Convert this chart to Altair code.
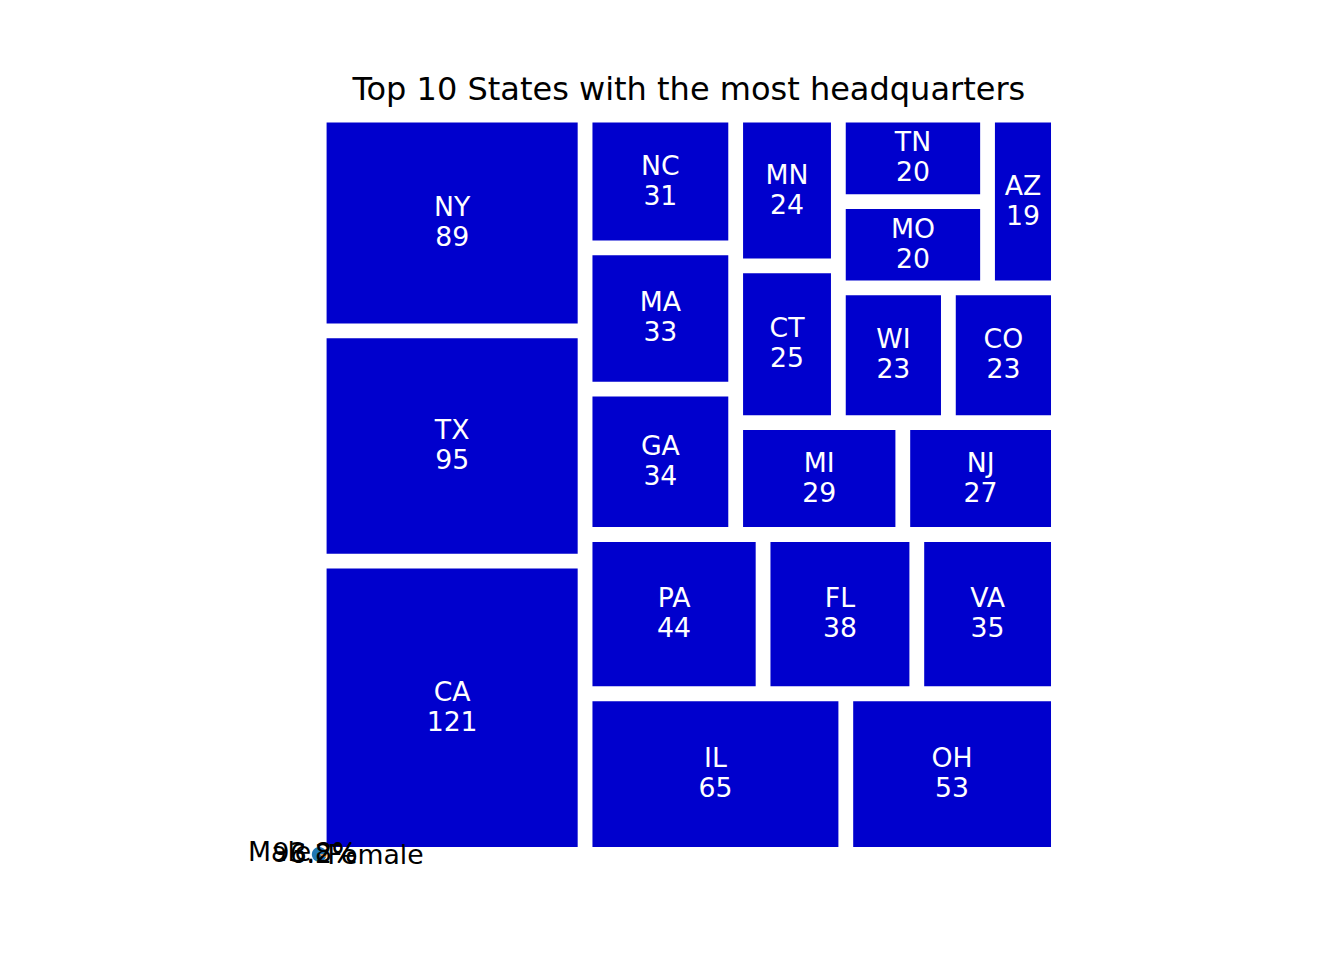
import math
import altair as alt
import pandas as pd

states = ["CA", "TX", "NY", "IL", "OH", "PA", "FL", "VA", "GA", "MA",
          "NC", "MI", "NJ", "CT", "MN", "WI", "CO", "MO", "TN", "AZ"]
counts = [121, 95, 89, 65, 53, 44, 38, 35, 34, 33,
          31, 29, 27, 25, 24, 23, 23, 20, 20, 19]

pie_labels = ["Male", "Female"]
pie_values = [93.8, 6.2]


# ---- squarify layout (same algorithm as the python "squarify" package) ----
def layoutrow(sizes, x, y, dx, dy):
    width = sum(sizes) / dy
    rects = []
    for s in sizes:
        rects.append({"x": x, "y": y, "dx": width, "dy": s / width})
        y += s / width
    return rects


def layoutcol(sizes, x, y, dx, dy):
    height = sum(sizes) / dx
    rects = []
    for s in sizes:
        rects.append({"x": x, "y": y, "dx": s / height, "dy": height})
        x += s / height
    return rects


def layout(sizes, x, y, dx, dy):
    return layoutrow(sizes, x, y, dx, dy) if dx >= dy else layoutcol(sizes, x, y, dx, dy)


def leftover(sizes, x, y, dx, dy):
    if dx >= dy:
        w = sum(sizes) / dy
        return x + w, y, dx - w, dy
    h = sum(sizes) / dx
    return x, y + h, dx, dy - h


def worst_ratio(sizes, x, y, dx, dy):
    return max(max(r["dx"] / r["dy"], r["dy"] / r["dx"]) for r in layout(sizes, x, y, dx, dy))


def squarify(sizes, x, y, dx, dy):
    sizes = [float(s) for s in sizes]
    if len(sizes) == 0:
        return []
    if len(sizes) == 1:
        return layout(sizes, x, y, dx, dy)
    i = 1
    while i < len(sizes) and worst_ratio(sizes[:i], x, y, dx, dy) >= worst_ratio(sizes[:i + 1], x, y, dx, dy):
        i += 1
    cur, rem = sizes[:i], sizes[i:]
    lx, ly, ldx, ldy = leftover(cur, x, y, dx, dy)
    return layout(cur, x, y, dx, dy) + squarify(rem, lx, ly, ldx, ldy)


total = sum(counts)
norm = [c * 100 * 100 / total for c in counts]
rects = squarify(norm, 0, 0, 100, 100)
for r in rects:
    if r["dx"] > 2:
        r["x"] += 1
        r["dx"] -= 2
    if r["dy"] > 2:
        r["y"] += 1
        r["dy"] -= 2

df = pd.DataFrame({
    "state": states,
    "count": counts,
    "x": [r["x"] for r in rects],
    "x2": [r["x"] + r["dx"] for r in rects],
    "y": [r["y"] for r in rects],
    "y2": [r["y"] + r["dy"] for r in rects],
})
df["cx"] = (df["x"] + df["x2"]) / 2
df["cy"] = (df["y"] + df["y2"]) / 2
df["label"] = df["state"] + "\n" + df["count"].astype(str)

# ---- stray pie (radius 1 data unit, centred at 0,0) ----
ptot = sum(pie_values)
start = 0.0
lab_rows = []
for lab, v in zip(pie_labels, pie_values):
    frac = v / ptot
    mid = math.radians((start + frac / 2) * 360)
    start += frac
    lx, ly = 1.1 * math.cos(mid), 1.1 * math.sin(mid)
    px, py = 0.6 * math.cos(mid), 0.6 * math.sin(mid)
    lab_rows.append({"x": lx, "y": ly, "text": lab, "align": "right" if lx < 0 else "left"})
    lab_rows.append({"x": px, "y": py, "text": f"{v:.1f}%", "align": "center"})
lab_df = pd.DataFrame(lab_rows)

pie_df = pd.DataFrame({"gender": pie_labels, "value": pie_values,
                       "order": [1, 0], "cx": [0.0, 0.0], "cy": [0.0, 0.0]})

xs = alt.Scale(domain=[0, 100], nice=False, zero=False)
ys = alt.Scale(domain=[0, 100], nice=False, zero=False)
FONT = "DejaVu Sans"

rect = alt.Chart(df).mark_rect(color="#0000CD").encode(
    x=alt.X("x:Q", scale=xs, axis=None),
    x2="x2:Q",
    y=alt.Y("y:Q", scale=ys, axis=None),
    y2="y2:Q",
)

text = alt.Chart(df).mark_text(
    color="white", font=FONT, fontSize=26.7, lineBreak="\n", lineHeight=30,
    align="center", baseline="middle", dy=-15,
).encode(
    x=alt.X("cx:Q", scale=xs, axis=None),
    y=alt.Y("cy:Q", scale=ys, axis=None),
    text="label:N",
)

pie = alt.Chart(pie_df).mark_arc(radius=7.4, thetaOffset=math.pi / 2).encode(
    x=alt.X("cx:Q", scale=xs, axis=None),
    y=alt.Y("cy:Q", scale=ys, axis=None),
    theta=alt.Theta("value:Q", stack=True),
    order=alt.Order("order:Q"),
    color=alt.Color("gender:N", scale=alt.Scale(domain=["Male", "Female"],
                                                  range=["#1f77b4", "#ff7f0e"]), legend=None),
)

def lab_layer(align):
    return alt.Chart(lab_df[lab_df["align"] == align]).mark_text(
        color="black", font=FONT, fontSize=26.7, align=align, baseline="middle",
    ).encode(
        x=alt.X("x:Q", scale=xs, axis=None),
        y=alt.Y("y:Q", scale=ys, axis=None),
        text="text:N",
    )

chart = alt.layer(
    rect, text, pie, lab_layer("right"), lab_layer("left"), lab_layer("center")
).properties(
    width=739.2, height=739.2,
    autosize=alt.AutoSizeParams(type="none"),
    padding={"left": 319.2, "top": 115.2, "right": 285.6, "bottom": 105.6},
    title=alt.Title("Top 10 States with the most headquarters", font=FONT, fontSize=32,
                    fontWeight="normal", color="black", anchor="middle", offset=-17,
                    baseline="alphabetic"),
    background="white",
).configure_view(strokeWidth=0)

chart.save("out.html", embed_options={"renderer": "svg", "actions": False})
